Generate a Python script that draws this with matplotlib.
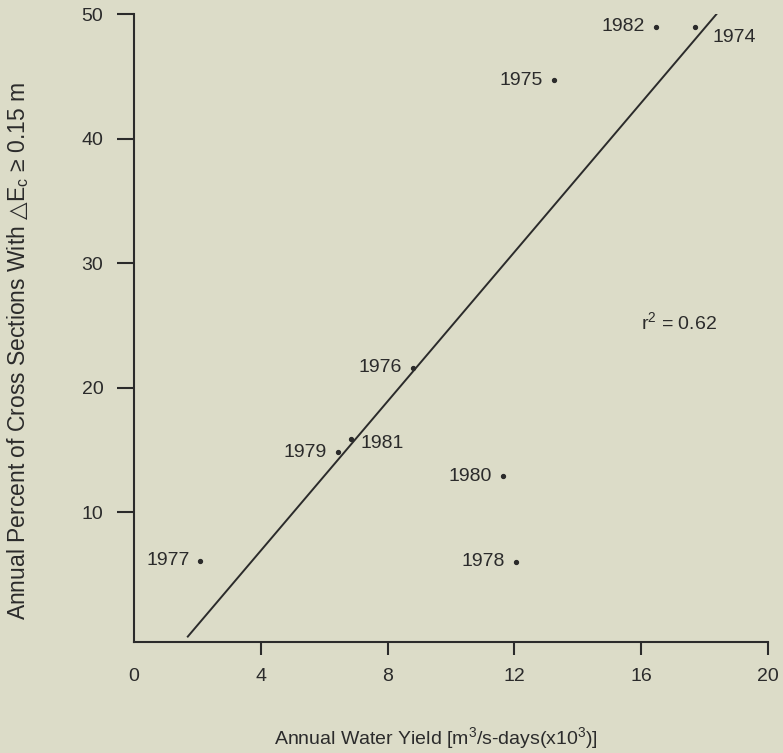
import matplotlib
matplotlib.use("Agg")
import matplotlib.pyplot as plt
import numpy as np

plt.rcParams['font.family'] = ['Liberation Sans', 'DejaVu Sans']
plt.rcParams['mathtext.fontset'] = 'custom'
plt.rcParams['mathtext.rm'] = 'Liberation Sans'
plt.rcParams['mathtext.it'] = 'Liberation Sans'
plt.rcParams['mathtext.sf'] = 'DejaVu Sans'

years = ['1974', '1975', '1976', '1977', '1978', '1979', '1980', '1981', '1982']
water_yield = [17.7, 13.25, 8.8, 2.1, 12.05, 6.43, 11.64, 6.85, 16.47]
percent = [49.0, 44.7, 21.6, 6.1, 6.0, 14.8, 12.9, 15.9, 49.0]
label_side = ['right_low', 'left', 'left', 'left', 'left', 'left', 'left', 'right', 'left']

fit_slope = 3.0
fit_x0 = 1.7          # x-intercept of fit line
r_squared = 0.62

x_ticks = [4, 8, 12, 16, 20]
y_ticks = [10, 20, 30, 40, 50]

bg = '#dcdcc8'
ink = '#2b2b2b'
fs = 14

fig = plt.figure(figsize=(7.83, 7.53), dpi=100, facecolor=bg)
ax = fig.add_axes([0.171, 0.148, 0.81, 0.833], facecolor=bg)

ax.plot(water_yield, percent, 'o', color=ink, markersize=2.8, zorder=3)

x_end = fit_x0 + 50 / fit_slope
xl = np.array([fit_x0, x_end])
ax.plot(xl, fit_slope * (xl - fit_x0), color=ink, linewidth=1.4)

for yr, x, y, side in zip(years, water_yield, percent, label_side):
    if side == 'left':
        ax.text(x - 0.35, y, yr, ha='right', va='center', fontsize=fs, color=ink)
    elif side == 'right':
        ax.text(x + 0.3, y - 0.4, yr, ha='left', va='center', fontsize=fs, color=ink)
    else:
        ax.text(x + 0.55, y - 0.9, yr, ha='left', va='center', fontsize=fs, color=ink)

ax.text(16.0, 25.3, r'r$^2$ = ' + f'{r_squared:.2f}', ha='left', va='center',
        fontsize=fs, color=ink)

ax.set_xlim(0, 20)
ax.set_ylim(-0.4, 50)
ax.set_xticks(x_ticks)
ax.set_yticks(y_ticks)
ax.set_xticks([0], minor=True)
ax.set_xticklabels(['0'], minor=True)
ax.tick_params(axis='x', which='minor', length=0, labelsize=fs, colors=ink, pad=19)
ax.tick_params(axis='x', which='major', direction='out', length=9, width=1.5,
               labelsize=fs, colors=ink, pad=10)
ax.tick_params(axis='y', direction='out', length=12, width=1.5, labelsize=fs,
               colors=ink, pad=10)

for s in ['top', 'right']:
    ax.spines[s].set_visible(False)
for s in ['left', 'bottom']:
    ax.spines[s].set_linewidth(1.5)
    ax.spines[s].set_color(ink)

fig.text(436 / 783, 1 - 738 / 753, r'Annual Water Yield [m$^3$/s-days(x10$^3$)]',
         fontsize=14, color=ink, ha='center', va='center')
fig.text(18 / 783, 1 - 351 / 753,
         'Annual Percent of Cross Sections With $\\mathsf{△}$E$_{\\rm c}$ ≥ 0.15 m',
         fontsize=16.5, color=ink, ha='center', va='center', rotation=90)

fig.savefig('out.png', dpi=100, facecolor=bg)
